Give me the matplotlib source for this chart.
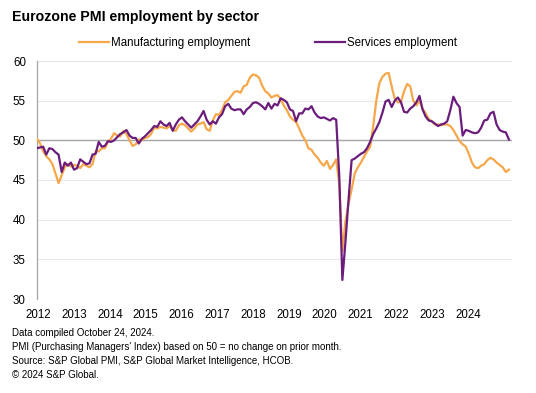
import numpy as np
import matplotlib
matplotlib.use("Agg")
import matplotlib.pyplot as plt

plt.rcParams['font.family'] = ['Liberation Sans', 'DejaVu Sans']

# monthly index values, Jan 2012 .. Oct 2024 (one row per year)
manufacturing = [
    50.2, 49.6, 48.6, 48.0, 47.6, 47.0, 45.8, 44.6, 45.6, 46.6, 47.0, 46.7,  # 2012
    46.9, 46.8, 46.5, 47.0, 46.8, 46.6, 47.0, 48.6, 48.6, 49.0, 49.0, 49.8,  # 2013
    50.2, 50.9, 50.6, 50.5, 51.2, 50.8, 50.0, 49.3, 49.5, 50.1, 50.0, 50.3,  # 2014
    50.4, 50.8, 51.6, 51.5, 51.7, 51.6, 51.5, 51.8, 51.3, 51.2, 51.9, 52.1,  # 2015
    51.9, 51.5, 51.1, 51.5, 52.0, 52.1, 52.3, 51.4, 51.2, 52.5, 53.3, 53.2,  # 2016
    53.8, 54.8, 55.1, 55.6, 56.1, 56.2, 56.0, 56.8, 57.0, 57.9, 58.3, 58.2,  # 2017
    57.9, 56.9, 56.2, 55.9, 55.4, 55.6, 55.7, 55.2, 54.4, 53.8, 53.0, 52.6,  # 2018
    52.3, 51.5, 50.6, 50.0, 49.0, 48.8, 48.2, 47.8, 47.2, 46.8, 47.4, 46.4,  # 2019
    46.9, 47.6, 44.5, 36.0, 39.8, 42.0, 43.8, 45.8, 46.6, 47.2, 47.9, 48.6,  # 2020
    49.2, 51.8, 55.0, 57.2, 58.0, 58.4, 58.5, 56.8, 55.2, 54.8, 54.8, 56.2,  # 2021
    57.1, 56.8, 55.0, 54.4, 55.0, 54.0, 53.4, 52.7, 52.4, 52.0, 52.0, 51.9,  # 2022
    52.0, 52.0, 51.8, 51.3, 50.6, 49.9, 49.5, 49.2, 48.3, 47.2, 46.6, 46.5,  # 2023
    46.8, 47.0, 47.5, 47.8, 47.6, 47.2, 46.9, 46.6, 46.0, 46.3,              # 2024
]

services = [
    49.0, 49.1, 49.2, 48.2, 49.0, 48.9, 48.5, 48.2, 46.0, 47.2, 46.8, 47.2,  # 2012
    46.3, 46.5, 47.6, 47.3, 47.0, 47.1, 48.2, 48.3, 49.8, 49.2, 49.3, 49.9,  # 2013
    49.8, 50.0, 50.4, 50.8, 51.0, 51.3, 50.6, 50.3, 50.3, 49.6, 50.2, 50.5,  # 2014
    50.9, 51.3, 51.8, 51.7, 52.4, 52.0, 51.8, 52.2, 51.2, 52.0, 52.6, 52.9,  # 2015
    52.4, 52.0, 51.6, 52.0, 52.4, 53.0, 53.7, 52.6, 52.0, 52.4, 52.1, 52.9,  # 2016
    53.3, 54.3, 54.6, 54.0, 53.8, 53.9, 53.9, 53.3, 53.9, 54.2, 54.7, 54.8,  # 2017
    54.6, 54.3, 53.9, 54.7, 54.0, 54.6, 54.4, 55.3, 55.1, 54.8, 53.9, 53.7,  # 2018
    52.4, 53.4, 53.4, 54.0, 53.9, 54.3, 53.5, 53.0, 52.8, 52.9, 52.7, 52.5,  # 2019
    52.8, 52.6, 45.5, 32.4, 37.2, 42.5, 47.5, 47.7, 48.0, 48.3, 48.5, 49.0,  # 2020
    49.8, 50.8, 51.5, 52.3, 53.5, 54.9, 55.1, 54.2, 55.0, 55.4, 54.8, 53.6,  # 2021
    53.5, 54.0, 54.3, 54.8, 55.6, 53.9, 53.0, 52.5, 52.4, 52.1, 51.8, 52.0,  # 2022
    52.1, 52.4, 53.8, 55.5, 54.7, 54.2, 50.6, 51.3, 51.2, 51.0, 50.9, 51.0,  # 2023
    51.6, 52.5, 52.6, 53.4, 53.6, 52.0, 51.3, 51.1, 51.0, 50.1,              # 2024
]

years = [str(y) for y in range(2012, 2025)]

footnotes = [
    "Data compiled October 24, 2024.",
    "PMI (Purchasing Managers' Index) based on 50 = no change on prior month.",
    "Source: S&P Global PMI, S&P Global Market Intelligence, HCOB.",
    "\u00a9 2024 S&P Global.",
]

ORANGE = "#F6A74A"
PURPLE = "#6B1D7C"

W, H = 536, 393
fig = plt.figure(figsize=(W / 100, H / 100), dpi=100)
ax = fig.add_axes([37 / W, 1 - 299 / H, 475 / W, 238 / H])

x = np.arange(len(manufacturing))
ax.plot(x, manufacturing, color=ORANGE, lw=1.6, label="Manufacturing employment",
        solid_joinstyle="round", zorder=3)
ax.plot(x, services, color=PURPLE, lw=1.6, label="Services employment",
        solid_joinstyle="round", zorder=4)

ax.set_xlim(0, 154)
ax.set_ylim(30, 60)
ax.set_yticks(range(30, 61, 5))
ax.yaxis.grid(True, color="#e8e8e8", lw=0.8)
ax.axhline(50, color="#a6a6a6", lw=1.0, zorder=2)
ax.set_axisbelow(True)

# year labels are spread evenly along the axis
ax.set_xticks(np.linspace(0.42, 139.7, len(years)))
ax.set_xticklabels(years)
ax.tick_params(length=0, labelsize=8.3, colors="#000000")
ax.tick_params(axis="y", pad=8)
ax.tick_params(axis="x", pad=7)

for side in ["top", "right", "bottom"]:
    ax.spines[side].set_visible(False)
ax.spines["left"].set_color("#a6a6a6")
ax.spines["left"].set_linewidth(0.9)

fig.text(12.5 / W, 1 - 17 / H, "Eurozone PMI employment by sector", fontsize=10.2,
         fontweight="bold", va="center", ha="left")

fig.legend(loc="center", bbox_to_anchor=(268 / W, 1 - 43 / H), ncol=2, frameon=False,
           fontsize=8.3, handlelength=2.6, handletextpad=0.2, columnspacing=5.6,
           borderpad=0)

for k, line in enumerate(footnotes):
    fig.text(12.5 / W, 1 - (333 + 14 * k) / H, line, fontsize=7.0, va="center", ha="left")

fig.savefig("out.png", dpi=100)
